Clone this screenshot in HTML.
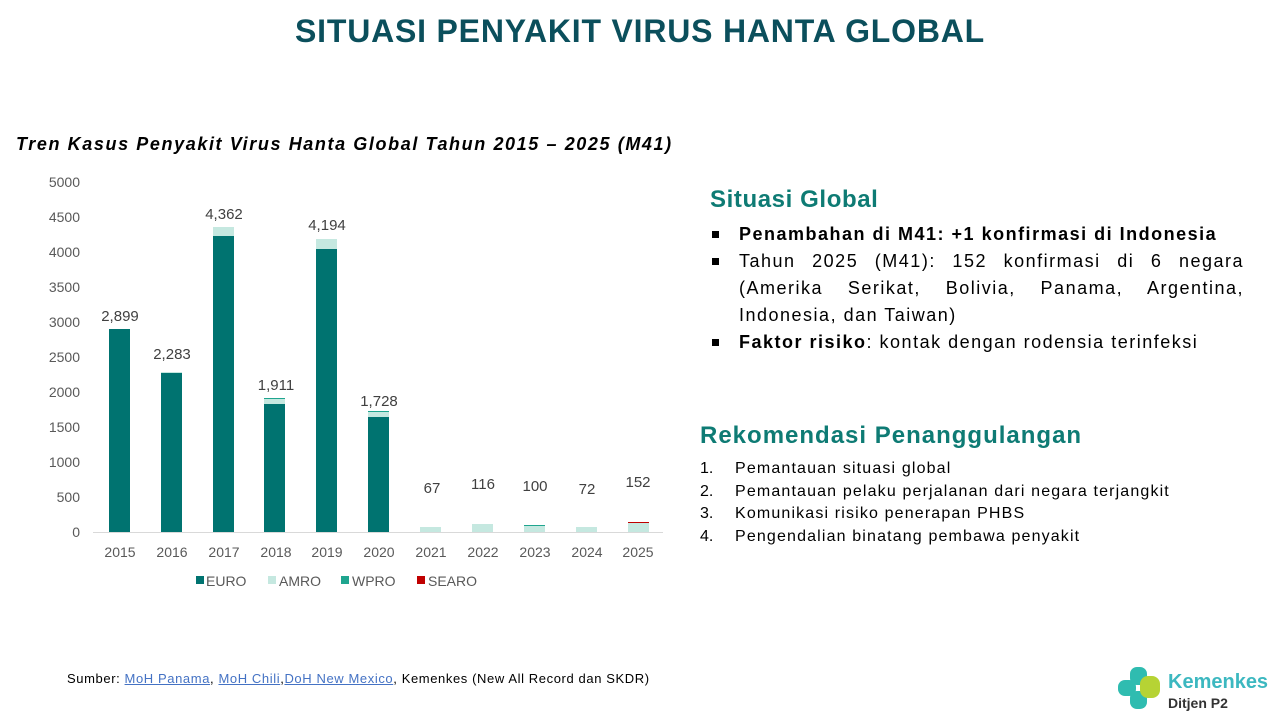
<!DOCTYPE html>
<html><head><meta charset="utf-8"><style>
body{margin:0;width:1280px;height:720px;background:#fff;font-family:"Liberation Sans",sans-serif;position:relative;overflow:hidden}
.t{position:absolute;left:0;width:1280px;top:13px;text-align:center;font-size:32px;font-weight:bold;color:#0b4f5c;letter-spacing:0.8px}
.sub{position:absolute;left:16px;top:134px;font-size:18px;font-weight:bold;font-style:italic;color:#000;letter-spacing:1.6px}
.h{position:absolute;color:#0e7b74;font-weight:bold;font-size:24px}
ul{position:absolute;left:710px;top:221px;width:534px;margin:0;padding:0;list-style:none;font-size:18px;line-height:27px;color:#000;letter-spacing:1.5px}
ul li{position:relative;padding-left:29px;text-align:justify}
ul li:before{content:"";position:absolute;left:2px;top:10px;width:7px;height:7px;background:#000}
ol{position:absolute;left:700px;top:458px;margin:0;padding:0;list-style:none;font-size:16px;line-height:22.5px;letter-spacing:1.15px}
ol span{display:inline-block;width:35px;letter-spacing:0}
.src{position:absolute;left:67px;top:671px;font-size:13px;letter-spacing:0.6px}
.src a{color:#4472c4;text-decoration:underline}
</style></head><body>
<div class="t">SITUASI PENYAKIT VIRUS HANTA GLOBAL</div>
<div class="sub">Tren Kasus Penyakit Virus Hanta Global Tahun 2015 – 2025 (M41)</div>
<svg width="700" height="600" style="position:absolute;left:0;top:0" font-family="Liberation Sans, sans-serif" font-size="14" fill="#595959">
<g text-anchor="end">
<text x="80" y="187">5000</text><text x="80" y="222">4500</text><text x="80" y="257">4000</text><text x="80" y="292">3500</text><text x="80" y="327">3000</text><text x="80" y="362">2500</text><text x="80" y="397">2000</text><text x="80" y="432">1500</text><text x="80" y="467">1000</text><text x="80" y="502">500</text><text x="80" y="537">0</text>
</g>
<line x1="93" y1="532.5" x2="663" y2="532.5" stroke="#d9d9d9"/>
<g>
<rect x="109" y="329" width="21" height="203" fill="#007370"/>
<rect x="161" y="373" width="21" height="159" fill="#007370"/><rect x="161" y="372" width="21" height="1" fill="#c5e8e0"/>
<rect x="213" y="236" width="21" height="296" fill="#007370"/><rect x="213" y="227" width="21" height="9" fill="#c5e8e0"/>
<rect x="264" y="404" width="21" height="128" fill="#007370"/><rect x="264" y="398" width="21" height="6" fill="#c5e8e0"/><rect x="264" y="398" width="21" height="1" fill="#1fa58f"/>
<rect x="316" y="249" width="21" height="283" fill="#007370"/><rect x="316" y="239" width="21" height="10" fill="#c5e8e0"/>
<rect x="368" y="417" width="21" height="115" fill="#007370"/><rect x="368" y="412" width="21" height="5" fill="#c5e8e0"/><rect x="368" y="411" width="21" height="1" fill="#1fa58f"/>
<rect x="420" y="527" width="21" height="5" fill="#c5e8e0"/>
<rect x="472" y="524" width="21" height="8" fill="#c5e8e0"/>
<rect x="524" y="525" width="21" height="7" fill="#c5e8e0"/><rect x="524" y="525" width="21" height="1" fill="#1fa58f"/>
<rect x="576" y="527" width="21" height="5" fill="#c5e8e0"/>
<rect x="628" y="523" width="21" height="9" fill="#c5e8e0"/><rect x="628" y="522" width="21" height="1" fill="#c00000"/>
</g>
<g text-anchor="middle" fill="#404040" font-size="15">
<text x="120" y="321">2,899</text><text x="172" y="359">2,283</text><text x="224" y="219">4,362</text><text x="276" y="390">1,911</text><text x="327" y="230">4,194</text><text x="379" y="406">1,728</text><text x="432" y="493">67</text><text x="483" y="489">116</text><text x="535" y="491">100</text><text x="587" y="494">72</text><text x="638" y="487">152</text>
</g>
<g text-anchor="middle" fill="#595959" font-size="14">
<text x="120" y="557">2015</text><text x="172" y="557">2016</text><text x="224" y="557">2017</text><text x="276" y="557">2018</text><text x="327" y="557">2019</text><text x="379" y="557">2020</text><text x="431" y="557">2021</text><text x="483" y="557">2022</text><text x="535" y="557">2023</text><text x="587" y="557">2024</text><text x="638" y="557">2025</text>
</g>
<rect x="196" y="576" width="8" height="8" fill="#007370"/><text x="206" y="586">EURO</text>
<rect x="268" y="576" width="8" height="8" fill="#c5e8e0"/><text x="279" y="586">AMRO</text>
<rect x="341" y="576" width="8" height="8" fill="#1fa58f"/><text x="352" y="586">WPRO</text>
<rect x="417" y="576" width="8" height="8" fill="#c00000"/><text x="428" y="586">SEARO</text>
</svg>
<div class="h" style="left:710px;top:186px;letter-spacing:0.6px">Situasi Global</div>
<ul>
<li><b>Penambahan di M41: +1 konfirmasi di Indonesia</b></li>
<li>Tahun 2025 (M41): 152 konfirmasi di 6 negara (Amerika Serikat, Bolivia, Panama, Argentina, Indonesia, dan Taiwan)</li>
<li><b>Faktor risiko</b>: kontak dengan rodensia terinfeksi</li>
</ul>
<div class="h" style="left:700px;top:422px;letter-spacing:1px">Rekomendasi Penanggulangan</div>
<ol>
<li><span>1.</span>Pemantauan situasi global</li>
<li><span>2.</span>Pemantauan pelaku perjalanan dari negara terjangkit</li>
<li><span>3.</span>Komunikasi risiko penerapan PHBS</li>
<li><span>4.</span>Pengendalian binatang pembawa penyakit</li>
</ol>
<div class="src">Sumber: <a>MoH Panama</a>, <a>MoH Chili</a>,<a>DoH New Mexico</a>, Kemenkes (New All Record dan SKDR)</div>
<svg width="60" height="50" style="position:absolute;left:1116px;top:664px">
<rect x="2" y="16" width="18" height="16" rx="7" fill="#2fbcb0"/>
<rect x="14" y="3" width="17" height="18" rx="7" fill="#2fbcb0"/>
<rect x="14" y="27" width="17" height="18" rx="7" fill="#2fbcb0"/>
<rect x="24" y="12" width="20" height="22" rx="8" fill="#b6d334"/>
</svg>
<div style="position:absolute;left:1168px;top:671px;font-size:20px;font-weight:bold;color:#3cb8c0">Kemenkes</div>
<div style="position:absolute;left:1168px;top:695px;font-size:14px;font-weight:bold;color:#333">Ditjen P2</div>
</body></html>
